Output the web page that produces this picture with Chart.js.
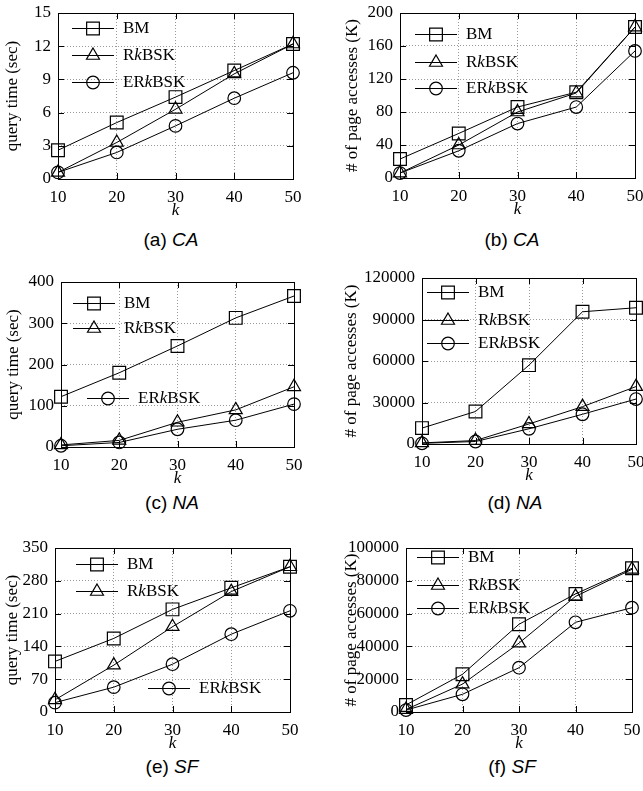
<!DOCTYPE html>
<html>
<head>
<meta charset="utf-8">
<script src="https://cdn.jsdelivr.net/npm/chart.js@4.4.0/dist/chart.umd.min.js"></script>
<style>
  html, body { margin: 0; padding: 0; background: #fff; width: 643px; height: 791px; overflow: hidden; position: relative; }
  canvas { position: absolute; }
  .caption { position: absolute; font-family: "Liberation Sans", Arial, sans-serif; font-size: 19px; color: #000;
             transform: translate(-50%, -50%); white-space: nowrap; }
</style>
</head>
<body>
<script>
// k on the x axis, same for every panel
const kValues = [10, 20, 30, 40, 50];
const seriesNames = ["BM", "RkBSK", "ERkBSK"];

// (a) CA, query time (sec)
const caTimeBM = [2.6, 5.1, 7.4, 9.8, 12.2];
const caTimeRkBSK = [0.6, 3.3, 6.3, 9.5, 12.2];
const caTimeERkBSK = [0.6, 2.4, 4.8, 7.3, 9.6];
const caTimeTicks = [0, 3, 6, 9, 12, 15];

// (b) CA, # of page accesses (K)
const caPageBM = [23, 54, 86, 104, 183];
const caPageRkBSK = [6, 40, 80, 103, 183];
const caPageERkBSK = [6, 33, 66, 86, 154];
const caPageTicks = [0, 40, 80, 120, 160, 200];

// (c) NA, query time (sec)
const naTimeBM = [122, 180, 245, 313, 366];
const naTimeRkBSK = [5, 16, 60, 90, 146];
const naTimeERkBSK = [3, 11, 43, 65, 104];
const naTimeTicks = [0, 100, 200, 300, 400];

// (d) NA, # of page accesses (K)
const naPageBM = [11500, 23500, 57000, 95600, 98500];
const naPageRkBSK = [800, 2500, 14500, 27000, 41500];
const naPageERkBSK = [500, 1800, 11000, 21500, 32500];
const naPageTicks = [0, 30000, 60000, 90000, 120000];

// (e) SF, query time (sec)
const sfTimeBM = [108, 157, 219, 265, 310];
const sfTimeRkBSK = [26, 100, 182, 257, 310];
const sfTimeERkBSK = [20, 53, 102, 166, 216];
const sfTimeTicks = [0, 70, 140, 210, 280, 350];

// (f) SF, # of page accesses (K)
const sfPageBM = [4300, 23000, 53500, 72000, 87600];
const sfPageRkBSK = [1500, 17000, 42000, 70500, 87000];
const sfPageERkBSK = [1200, 10800, 27000, 54700, 63600];
const sfPageTicks = [0, 20000, 40000, 60000, 80000, 100000];

const SERIF = "'Liberation Serif', 'Times New Roman', serif";
const FONT_SIZE = 17;
const X_AXIS_H = 43;
const PAD_TOP = 22;
const PAD_RIGHT = 22;
const LINE_LEN = 42;

// marker look for each series
const markers = [
    { style: 'rect', radius: 9 },
    { style: 'triangle', radius: 7.5 },
    { style: 'circle', radius: 6.3 },
];

// layout of each panel: plot area [left, top, right, bottom] in page pixels
const panels = [
    { colLeft: 0, area: [58, 13, 293, 179], titleX: 13, yTitle: 'query time (sec)',
      series: [caTimeBM, caTimeRkBSK, caTimeERkBSK], yTicks: caTimeTicks,
      legend: [[14, 15], [14, 42], [14, 69]], caption: ['(a) ', 'CA'], capPos: [171, 240] },
    { colLeft: 320, area: [400, 13, 635, 178], titleX: 353, yTitle: '# of page accesses (K)',
      series: [caPageBM, caPageRkBSK, caPageERkBSK], yTicks: caPageTicks,
      legend: [[15, 21], [15, 49], [15, 75]], caption: ['(b) ', 'CA'], capPos: [512, 240] },
    { colLeft: 0, area: [61, 282, 294, 447], titleX: 14, yTitle: 'query time (sec)',
      series: [naTimeBM, naTimeRkBSK, naTimeERkBSK], yTicks: naTimeTicks,
      legend: [[12, 21], [12, 46], [26, 116]], caption: ['(c) ', 'NA'], capPos: [172, 503] },
    { colLeft: 320, area: [422, 278, 636, 444], titleX: 352, yTitle: '# of page accesses (K)',
      series: [naPageBM, naPageRkBSK, naPageERkBSK], yTicks: naPageTicks,
      legend: [[5, 14], [5, 42], [5, 65]], caption: ['(d) ', 'NA'], capPos: [515, 503] },
    { colLeft: 0, area: [55, 548, 290, 712], titleX: 13, yTitle: 'query time (sec)',
      series: [sfTimeBM, sfTimeRkBSK, sfTimeERkBSK], yTicks: sfTimeTicks,
      legend: [[21, 16], [21, 43], [93, 140]], caption: ['(e) ', 'SF'], capPos: [172, 767] },
    { colLeft: 320, area: [406, 548, 632, 712], titleX: 352, yTitle: '# of page accesses (K)',
      series: [sfPageBM, sfPageRkBSK, sfPageERkBSK], yTicks: sfPageTicks,
      legend: [[11, 9], [11, 37], [11, 60]], caption: ['(f) ', 'SF'], capPos: [512, 767] },
];

// box around the plot with small inward ticks, gnuplot style
const framePlugin = {
    id: 'frame',
    afterDraw(chart) {
        const { ctx, chartArea: a, scales } = chart;
        ctx.save();
        ctx.strokeStyle = '#000';
        ctx.lineWidth = 1;
        ctx.setLineDash([]);
        ctx.strokeRect(a.left + 0.5, a.top + 0.5, a.right - a.left, a.bottom - a.top);
        ctx.beginPath();
        scales.y.ticks.forEach(t => {
            const y = Math.round(scales.y.getPixelForValue(t.value)) + 0.5;
            ctx.moveTo(a.left, y); ctx.lineTo(a.left + 6, y);
            ctx.moveTo(a.right, y); ctx.lineTo(a.right - 6, y);
        });
        scales.x.ticks.forEach(t => {
            const x = Math.round(scales.x.getPixelForValue(t.value)) + 0.5;
            ctx.moveTo(x, a.bottom); ctx.lineTo(x, a.bottom - 6);
            ctx.moveTo(x, a.top); ctx.lineTo(x, a.top + 6);
        });
        ctx.stroke();
        ctx.restore();
    }
};

// legend drawn inside the plot, k in italics
const legendPlugin = {
    id: 'inLegend',
    afterDraw(chart, args, opts) {
        const { ctx, chartArea: a } = chart;
        ctx.save();
        chart.data.datasets.forEach((ds, i) => {
            const [dx, dy] = opts.entries[i];
            const x0 = a.left + dx, y = a.top + dy;
            ctx.strokeStyle = '#000';
            ctx.lineWidth = 1;
            ctx.beginPath();
            ctx.moveTo(x0, y + 0.5); ctx.lineTo(x0 + LINE_LEN, y + 0.5);
            ctx.stroke();
            ctx.fillStyle = 'rgba(0,0,0,0)';
            ctx.lineWidth = 1.2;
            Chart.helpers.drawPoint(ctx, { pointStyle: ds.pointStyle, radius: ds.pointRadius, rotation: 0, borderWidth: 1.2 },
                x0 + LINE_LEN / 2, y + 0.5);
            // label, with the k set in italics
            ctx.fillStyle = '#000';
            ctx.textBaseline = 'middle';
            let tx = x0 + LINE_LEN + 9;
            const parts = ds.label.split('k');
            parts.forEach((p, j) => {
                ctx.font = FONT_SIZE + 'px ' + SERIF;
                ctx.fillText(p, tx, y + 1);
                tx += ctx.measureText(p).width;
                if (j < parts.length - 1) {
                    ctx.font = 'italic ' + FONT_SIZE + 'px ' + SERIF;
                    ctx.fillText('k', tx, y + 1);
                    tx += ctx.measureText('k').width;
                }
            });
        });
        ctx.restore();
    }
};

panels.forEach(p => {
    const [l, t, r, b] = p.area;
    const yW = l - p.colLeft;
    const canvas = document.createElement('canvas');
    canvas.width = r - p.colLeft + PAD_RIGHT;
    canvas.height = b - t + PAD_TOP + X_AXIS_H;
    canvas.style.left = p.colLeft + 'px';
    canvas.style.top = (t - PAD_TOP) + 'px';
    document.body.appendChild(canvas);

    const cap = document.createElement('div');
    cap.className = 'caption';
    cap.innerHTML = p.caption[0] + '<i>' + p.caption[1] + '</i>';
    cap.style.left = p.capPos[0] + 'px';
    cap.style.top = p.capPos[1] + 'px';
    document.body.appendChild(cap);

    const datasets = p.series.map((vals, i) => ({
        label: seriesNames[i],
        data: kValues.map((k, j) => ({ x: k, y: vals[j] })),
        borderColor: '#000',
        borderWidth: 1,
        pointStyle: markers[i].style,
        pointRadius: markers[i].radius,
        pointBorderWidth: 1.2,
        pointBorderColor: '#000',
        pointBackgroundColor: 'rgba(0,0,0,0)',
        tension: 0,
        clip: false,
    }));

    new Chart(canvas, {
        type: 'line',
        data: { datasets: datasets },
        plugins: [framePlugin, legendPlugin],
        options: {
            responsive: false,
            animation: false,
            layout: { padding: { left: 0, top: PAD_TOP, right: PAD_RIGHT, bottom: 0 } },
            plugins: {
                legend: { display: false },
                tooltip: { enabled: false },
                inLegend: { entries: p.legend },
            },
            scales: {
                x: {
                    type: 'linear',
                    min: kValues[0],
                    max: kValues[kValues.length - 1],
                    afterBuildTicks: s => { s.ticks = kValues.map(v => ({ value: v })); },
                    afterFit: s => { s.height = X_AXIS_H; },
                    grid: { color: '#9a9a9a', drawTicks: false },
                    border: { display: false, dash: [1, 2] },
                    ticks: { color: '#000', padding: 8, callback: v => String(v),
                             font: { family: SERIF, size: FONT_SIZE } },
                    title: { display: true, text: 'k', color: '#000', padding: { top: 0, bottom: 1 },
                             font: { family: SERIF, size: FONT_SIZE, style: 'italic' } },
                },
                y: {
                    type: 'linear',
                    min: p.yTicks[0],
                    max: p.yTicks[p.yTicks.length - 1],
                    afterBuildTicks: s => { s.ticks = p.yTicks.map(v => ({ value: v })); },
                    afterFit: s => { s.width = yW; },
                    grid: { color: '#9a9a9a', drawTicks: false },
                    border: { display: false, dash: [1, 2] },
                    ticks: { color: '#000', padding: 7, callback: v => String(v),
                             font: { family: SERIF, size: FONT_SIZE } },
                    title: { display: true, text: p.yTitle, color: '#000',
                             padding: { top: p.titleX - p.colLeft - FONT_SIZE * 0.6, bottom: 0 },
                             font: { family: SERIF, size: FONT_SIZE } },
                },
            },
        },
    });
});
</script>
</body>
</html>
